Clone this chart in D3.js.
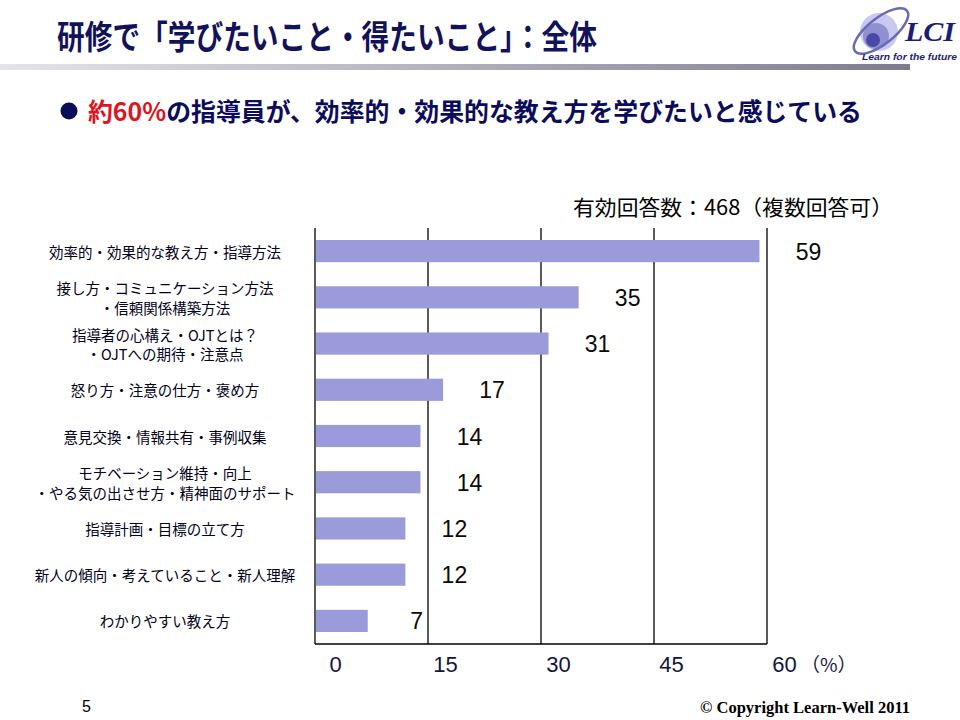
<!DOCTYPE html>
<html><head><meta charset="utf-8">
<script src="https://cdn.jsdelivr.net/npm/d3@7"></script>
<style>body{margin:0;background:#fff}svg{display:block}</style>
</head><body>
<svg id="c" width="960" height="720"></svg>
<script>
const categories = [
  "効率的・効果的な教え方・指導方法",
  "接し方・コミュニケーション方法\n・信頼関係構築方法",
  "指導者の心構え・OJTとは？\n・OJTへの期待・注意点",
  "怒り方・注意の仕方・褒め方",
  "意見交換・情報共有・事例収集",
  "モチベーション維持・向上\n・やる気の出させ方・精神面のサポート",
  "指導計画・目標の立て方",
  "新人の傾向・考えていること・新人理解",
  "わかりやすい教え方"
];
const values = [59, 35, 31, 17, 14, 14, 12, 12, 7];
const tickValues = [0, 15, 30, 45, 60];
const titleText = "研修で「学びたいこと・得たいこと」：全体";
const subRed = "約60%";
const subRest = "の指導員が、効率的・効果的な教え方を学びたいと感じている";
const noteText = "有効回答数：468（複数回答可）";
const unitText = "（%）";

const svg = d3.select("#c");
const JP = "'Noto Sans CJK JP','Noto Sans',sans-serif";
const LAT = "'Liberation Sans',Arial,sans-serif";

// defs
const defs = svg.append("defs");
const g1 = defs.append("linearGradient").attr("id","hdr").attr("x1","0").attr("x2","1");
g1.append("stop").attr("offset","0").attr("stop-color","#e4e4e8");
g1.append("stop").attr("offset","1").attr("stop-color","#7c7c8e");

// Header
svg.append("text").attr("x",57).attr("y",49)
  .attr("font-family",JP).attr("font-weight",700).attr("font-size",33)
  .attr("fill","#12125a").attr("textLength",540).attr("lengthAdjust","spacingAndGlyphs")
  .text(titleText);
svg.append("rect").attr("x",0).attr("y",64).attr("width",910).attr("height",6).attr("fill","url(#hdr)");

// Logo
const logo = svg.append("g");
logo.append("circle").attr("cx",879).attr("cy",32).attr("r",19).attr("fill","#c9c9ee");
logo.append("circle").attr("cx",876).attr("cy",36).attr("r",13).attr("fill","#8f8fd2");
logo.append("circle").attr("cx",873).attr("cy",40).attr("r",7).attr("fill","#4a4aa6");
logo.append("ellipse").attr("cx",881).attr("cy",31).attr("rx",33).attr("ry",13)
  .attr("transform","rotate(-38 881 31)").attr("fill","none").attr("stroke","#6a6ab4").attr("stroke-width",2.5);
logo.append("text").attr("x",905).attr("y",41).attr("font-family","'Liberation Serif',serif")
  .attr("font-style","italic").attr("font-weight",700).attr("font-size",28).attr("fill","#1c1c78")
  .attr("textLength",50).attr("lengthAdjust","spacingAndGlyphs").text("LCI");
logo.append("text").attr("x",862).attr("y",60).attr("font-family",LAT)
  .attr("font-style","italic").attr("font-weight",700).attr("font-size",9.5).attr("fill","#1c1c78")
  .attr("textLength",95).attr("lengthAdjust","spacingAndGlyphs").text("Learn for the future");

// Subtitle
svg.append("circle").attr("cx",69).attr("cy",111).attr("r",8.5).attr("fill","#0c0c5c");
const st = svg.append("text").attr("x",88).attr("y",121).attr("font-family",JP)
  .attr("font-weight",700).attr("font-size",25).attr("textLength",774).attr("lengthAdjust","spacingAndGlyphs");
st.append("tspan").attr("fill","#e0141e").text(subRed);
st.append("tspan").attr("fill","#0c0c5c").text(subRest);

// Chart
const x = d3.scaleLinear().domain([0,60]).range([315,767]);
const y = d3.scaleBand().domain(categories).range([228,644]).paddingInner(0.52).paddingOuter(0.26);

svg.append("text").attr("x",573).attr("y",215).attr("font-family",JP).attr("font-size",21)
  .attr("fill","#000").attr("textLength",320).attr("lengthAdjust","spacingAndGlyphs").text(noteText);

// gridlines
svg.append("g").selectAll("line").data(tickValues).join("line")
  .attr("x1",d=>x(d)).attr("x2",d=>x(d)).attr("y1",228).attr("y2",644)
  .attr("stroke","#000").attr("stroke-width",1.3);
svg.append("line").attr("x1",x(0)).attr("x2",x(60)).attr("y1",644).attr("y2",644)
  .attr("stroke","#000").attr("stroke-width",1.3);

// bars
svg.append("g").selectAll("rect").data(values).join("rect")
  .attr("x",x(0)+1).attr("y",(d,i)=>y(categories[i]))
  .attr("width",d=>x(d)-x(0)-1).attr("height",y.bandwidth()).attr("fill","#9b9bdb");

// value labels
svg.append("g").selectAll("text").data(values).join("text")
  .attr("x",d=>x(d)+49).attr("y",(d,i)=>y(categories[i])+y.bandwidth()/2+8.5)
  .attr("text-anchor","middle").attr("font-family",LAT).attr("font-size",23).attr("fill","#0a0a0a")
  .text(d=>d);

// category labels
const cl = svg.append("g").selectAll("text").data(categories).join("text")
  .attr("text-anchor","middle").attr("font-family",JP).attr("font-size",14.5).attr("fill","#000018");
cl.each(function(d){
  const lines = d.split("\n");
  const cy = y(d)+y.bandwidth()/2;
  const t = d3.select(this);
  if(lines.length===1){
    t.append("tspan").attr("x",165).attr("y",cy+6.5).text(lines[0]);
  } else {
    t.append("tspan").attr("x",165).attr("y",cy-8.5+5.5).text(lines[0]);
    t.append("tspan").attr("x",165).attr("y",cy+11+5.5).text(lines[1]);
  }
});

// x axis tick labels
const ax = svg.append("g").attr("transform","translate(17,650)")
  .call(d3.axisBottom(x).tickValues(tickValues).tickSize(0).tickPadding(0));
ax.select(".domain").remove();
ax.selectAll("text").attr("font-family",LAT).attr("font-size",22).attr("fill","#14143c").attr("dy","1.02em");
ax.selectAll(".tick").filter(d=>d===0).select("text").attr("x",3);
svg.append("text").attr("x",801).attr("y",672).attr("font-family",JP).attr("font-size",19)
  .attr("fill","#14143c").text(unitText);

// footer
svg.append("text").attr("x",82).attr("y",712).attr("font-family",LAT).attr("font-size",16).attr("fill","#000").text("5");
svg.append("text").attr("x",700).attr("y",713).attr("font-family","'Liberation Serif',serif").attr("font-weight",700)
  .attr("font-size",17).attr("fill","#000").attr("textLength",210).attr("lengthAdjust","spacingAndGlyphs")
  .text("© Copyright Learn-Well 2011");
</script>
</body></html>
